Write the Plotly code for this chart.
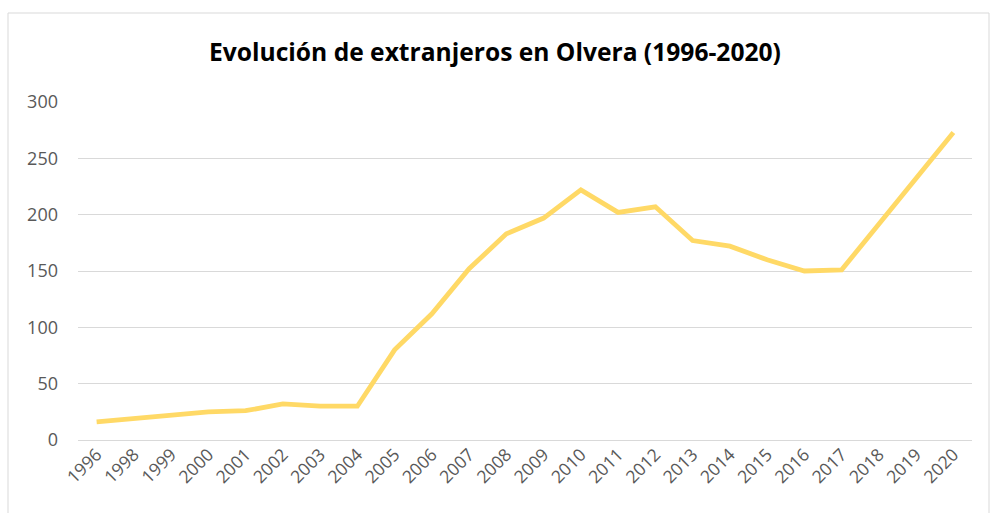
import plotly.graph_objects as go

years = ["1996", "1998", "1999", "2000", "2001", "2002", "2003", "2004", "2005", "2006",
         "2007", "2008", "2009", "2010", "2011", "2012", "2013", "2014", "2015", "2016",
         "2017", "2018", "2019", "2020"]
extranjeros = [16, 19, 21, 25, 26, 32, 30, 30, 80, 112,
               152, 183, 197, 222, 202, 207, 177, 172, 160, 150,
               151, 192, 232, 273]
y_ticks = [0, 50, 100, 150, 200, 250, 300]

W, H = 990, 513
ml, mr, mt, mb = 78, 18, 102, 73
pw, ph = W - ml - mr, H - mt - mb

fig = go.Figure()
fig.add_trace(go.Scatter(
    x=years, y=extranjeros, mode="lines",
    line=dict(color="#FFD966", width=4.8),
    hoverinfo="x+y", showlegend=False,
))

font = "Open Sans"
fig.update_layout(
    width=W, height=H,
    margin=dict(l=ml, r=mr, t=mt, b=mb, autoexpand=False),
    paper_bgcolor="white", plot_bgcolor="white",
    title=dict(text="<b>Evolución de extranjeros en Olvera (1996-2020)</b>",
               x=0.5, xanchor="center", y=1 - 52 / H, yanchor="middle",
               font=dict(family=font, size=24.6, color="#000000")),
    xaxis=dict(type="category", range=[-0.5, len(years) - 0.5],
               tickangle=-45, showgrid=False, showline=False, zeroline=False,
               tickfont=dict(family=font, size=17.5, color="#595959"),
               ticks="", fixedrange=True, automargin=False),
    yaxis=dict(range=[0, 300], tickvals=y_ticks, showgrid=True,
               gridcolor="#D9D9D9", gridwidth=1, zeroline=True,
               zerolinecolor="#D9D9D9", zerolinewidth=1, showline=False,
               tickfont=dict(family=font, size=18, color="#595959"),
               ticks="", ticklabelstandoff=19, fixedrange=True, automargin=False),
)

# outer chart border
x0 = (8 - ml) / pw
x1 = (989 - ml) / pw
y1 = 1 + (mt - 13) / ph
y0 = -(mb + 5) / ph
fig.add_shape(type="rect", xref="paper", yref="paper", x0=x0, x1=x1, y0=y0, y1=y1,
              line=dict(color="#D9D9D9", width=1), layer="below")

fig.write_html("out.html", config={"displayModeBar": False},
               post_script="document.body.style.margin='0';")
